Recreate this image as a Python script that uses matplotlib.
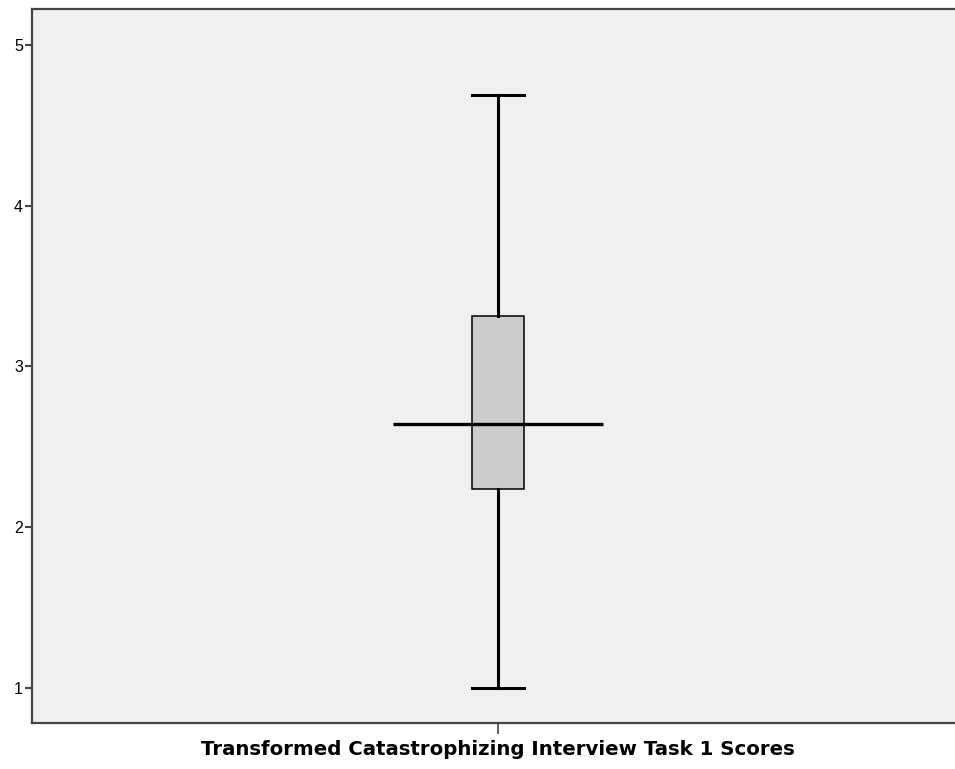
import matplotlib
matplotlib.use("Agg")
import matplotlib.pyplot as plt

plt.rcParams['font.family'] = ['Liberation Sans', 'DejaVu Sans']

# summary values
label = "Transformed Catastrophizing Interview Task 1 Scores"
whisker_low = 1.0
q1 = 2.236
median = 2.644
q3 = 3.314
whisker_high = 4.689
y_ticks = [1, 2, 3, 4, 5]

fig = plt.figure(figsize=(9.55, 7.69), dpi=100)
ax = fig.add_axes([32 / 955, 1 - 723 / 769, 932 / 955, 714 / 769])
ax.set_facecolor("#f0f0f0")

stats = [{
    "med": median, "q1": q1, "q3": q3,
    "whislo": whisker_low, "whishi": whisker_high,
    "fliers": [], "label": "",
}]
box_w = 0.0558
ax.bxp(stats, positions=[1], widths=box_w, capwidths=box_w,
       patch_artist=True, showfliers=False,
       boxprops=dict(facecolor="#cccccc", edgecolor="black", linewidth=1.1),
       whiskerprops=dict(color="black", linewidth=2.2),
       capprops=dict(color="black", linewidth=2.2),
       medianprops=dict(linewidth=0))
# the median line reaches well past the box
ax.hlines(median, 1 - 0.1125, 1 + 0.1125, color="black", linewidth=2.4, zorder=5)

ax.set_xlim(0.5, 1.5)
ax.set_ylim(0.782, 5.224)
ax.set_yticks(y_ticks)
ax.set_yticklabels([str(v) for v in y_ticks], fontsize=11.5)
ax.set_xticks([1])
ax.set_xticklabels([""])
ax.tick_params(axis="y", length=5, width=1.5, color="#444444", pad=1.5)
ax.tick_params(axis="x", length=8, width=1.2, color="#444444")

for side in ["left", "bottom", "top"]:
    ax.spines[side].set_color("#444444")
    ax.spines[side].set_linewidth(1.6)
ax.spines["right"].set_visible(False)

ax.set_xlabel(label, fontsize=14.2, fontweight="bold", labelpad=1,
              family=["DejaVu Sans"])

fig.savefig("out.png", dpi=100, facecolor="white")
